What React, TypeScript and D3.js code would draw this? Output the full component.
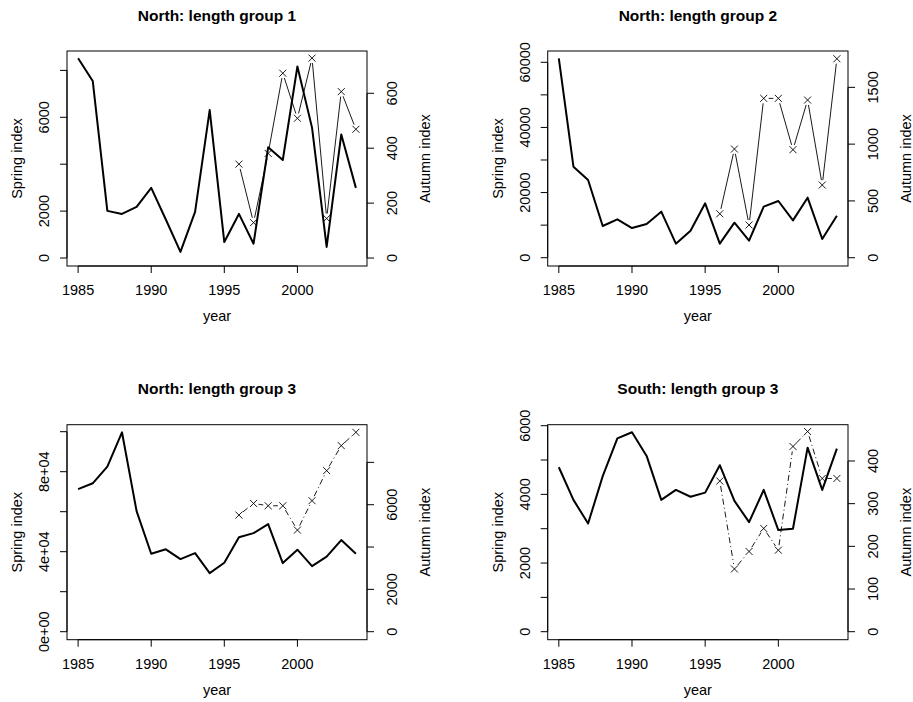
import React from "react";
import * as d3 from "d3";

const years = d3.range(1985, 2005);
const autumnYears = d3.range(1996, 2005);

const titles = ["North: length group 1", "North: length group 2", "North: length group 3", "South: length group 3"];

const springN1 = [8520, 7550, 2010, 1880, 2180, 2990, 1640, 260, 1970, 6310, 680, 1880, 610, 4720, 4180, 8170, 5560, 470, 5270, 2990];
const autumnN1 = [342, 129, 381, 673, 509, 728, 144, 606, 469];
const springN2 = [61200, 27950, 23860, 9730, 11780, 9110, 10340, 14130, 4300, 8290, 16690, 4300, 10750, 5220, 15670, 17410, 11470, 18430, 5730, 12900];
const autumnN2 = [387, 957, 288, 1403, 1403, 951, 1388, 640, 1752];
const springN3 = [71300, 74200, 82500, 99700, 60300, 39000, 41200, 36300, 39300, 29300, 34500, 47200, 49300, 53800, 34300, 41000, 32800, 37500, 45800, 39000];
const autumnN3 = [5510, 6060, 5950, 5950, 4800, 6190, 7610, 8790, 9420];
const springS3 = [4790, 3840, 3150, 4530, 5630, 5810, 5120, 3840, 4130, 3930, 4050, 4850, 3810, 3190, 4130, 2960, 3000, 5360, 4130, 5330];
const autumnS3 = [353, 147, 188, 242, 191, 434, 469, 359, 359];

const leftTicks = [d3.range(0, 8001, 2000), d3.range(0, 60001, 10000), d3.range(0, 100001, 20000), d3.range(0, 6001, 1000)];
const rightTicks = [d3.range(0, 601, 200), d3.range(0, 1501, 500), d3.range(0, 8001, 2000), d3.range(0, 401, 100)];
const leftLabels = [[0, 2000, 6000], [0, 20000, 40000, 60000], [0, 40000, 80000], [0, 2000, 4000, 6000]];
const rightLabels = [[0, 200, 400, 600], [0, 500, 1000, 1500], [0, 2000, 6000], [0, 100, 200, 300, 400]];
const leftDomains = [[-341, 8827], [-2550, 63470], [-4000, 103500], [-233, 6029]];
const rightDomains = [[-29, 754], [-73, 1820], [-378, 9780], [-18.75, 485]];
const dashes = ["none", "none", "6,3,1,3", "6,3,1,3"];
const springs = [springN1, springN2, springN3, springS3];
const autumns = [autumnN1, autumnN2, autumnN3, autumnS3];

const boxes = [
  { l: 67, r: 367, t: 51, b: 266 },
  { l: 547.7, r: 848, t: 51, b: 266 },
  { l: 67, r: 367, t: 424.7, b: 639.7 },
  { l: 547.7, r: 848, t: 424.7, b: 639.7 },
];

const Panel = ({ p }: { p: number }) => {
  const { l, r, t, b } = boxes[p];
  const x = d3.scaleLinear().domain([1984.24, 2004.76]).range([l, r]);
  const yl = d3.scaleLinear().domain(leftDomains[p]).range([b, t]);
  const yr = d3.scaleLinear().domain(rightDomains[p]).range([b, t]);
  const line = d3.line<number>().x((_, i) => x(years[i])).y((d) => yl(d));
  const lt = leftTicks[p];
  const rt = rightTicks[p];
  const xt = [1985, 1990, 1995, 2000];
  const labelLeft = (v: number) => {
    if (p === 2) return d3.format(".0e")(v).replace(/e\+(\d)$/, "e+0$1");
    return String(v);
  };
  const pts = autumns[p].map((v, i) => [x(autumnYears[i]), yr(v)] as [number, number]);
  const gap = 5;
  const segs = pts.slice(1).map((q, i) => {
    const a = pts[i];
    const dx = q[0] - a[0], dy = q[1] - a[1];
    const len = Math.hypot(dx, dy);
    if (len < 2 * gap + 1) return null;
    const ux = dx / len, uy = dy / len;
    return [a[0] + ux * gap, a[1] + uy * gap, q[0] - ux * gap, q[1] - uy * gap];
  });
  const font = "Liberation Sans, Arial, sans-serif";
  const fs = 14.5;
  return (
    <g fontFamily={font} fill="#000">
      <text x={(l + r) / 2} y={t - 36} textAnchor="middle" dominantBaseline="central" fontWeight="bold" fontSize={15.5}>{titles[p]}</text>
      <rect x={l} y={t} width={r - l} height={b - t} fill="none" stroke="#000" />
      <line x1={x(1985)} x2={x(2000)} y1={b} y2={b} stroke="#000" />
      {xt.map((v) => (
        <g key={v}>
          <line x1={x(v)} x2={x(v)} y1={b} y2={b + 7} stroke="#000" />
          <text x={x(v)} y={b + 24} textAnchor="middle" dominantBaseline="central" fontSize={fs}>{v}</text>
        </g>
      ))}
      <text x={(l + r) / 2} y={b + 50} textAnchor="middle" dominantBaseline="central" fontSize={fs}>year</text>
      <line x1={l} x2={l} y1={yl(lt[0])} y2={yl(lt[lt.length - 1])} stroke="#000" />
      {lt.map((v) => (
        <g key={v}>
          <line x1={l} x2={l - 7} y1={yl(v)} y2={yl(v)} stroke="#000" />
          {leftLabels[p].includes(v) && (
            <text transform={`translate(${l - 23},${yl(v)}) rotate(-90)`} textAnchor="middle" dominantBaseline="central" fontSize={fs}>{labelLeft(v)}</text>
          )}
        </g>
      ))}
      <text transform={`translate(${l - 50},${(t + b) / 2}) rotate(-90)`} textAnchor="middle" dominantBaseline="central" fontSize={fs}>Spring index</text>
      <line x1={r} x2={r} y1={yr(rt[0])} y2={yr(rt[rt.length - 1])} stroke="#000" />
      {rt.map((v) => (
        <g key={v}>
          <line x1={r} x2={r + 7} y1={yr(v)} y2={yr(v)} stroke="#000" />
          {rightLabels[p].includes(v) && (
            <text transform={`translate(${r + 25},${yr(v)}) rotate(-90)`} textAnchor="middle" dominantBaseline="central" fontSize={fs}>{v}</text>
          )}
        </g>
      ))}
      <text transform={`translate(${r + 58},${(t + b) / 2}) rotate(-90)`} textAnchor="middle" dominantBaseline="central" fontSize={fs}>Autumn index</text>
      <path d={line(springs[p]) as string} fill="none" stroke="#000" strokeWidth={2} strokeLinejoin="round" />
      {segs.map((s, i) => s && (
        <line key={i} x1={s[0]} y1={s[1]} x2={s[2]} y2={s[3]} stroke="#000" strokeWidth={0.9} strokeDasharray={dashes[p]} />
      ))}
      {pts.map(([px, py], i) => (
        <path key={i} d={`M${px - 3.5},${py - 3.5}L${px + 3.5},${py + 3.5}M${px - 3.5},${py + 3.5}L${px + 3.5},${py - 3.5}`} stroke="#000" strokeWidth={0.9} />
      ))}
    </g>
  );
};

export default function App() {
  return (
    <svg width={913} height={702} style={{ position: "absolute", left: 0, top: 0, background: "#fff" }}>
      <rect width={913} height={702} fill="#fff" />
      {[0, 1, 2, 3].map((p) => <Panel key={p} p={p} />)}
    </svg>
  );
}
